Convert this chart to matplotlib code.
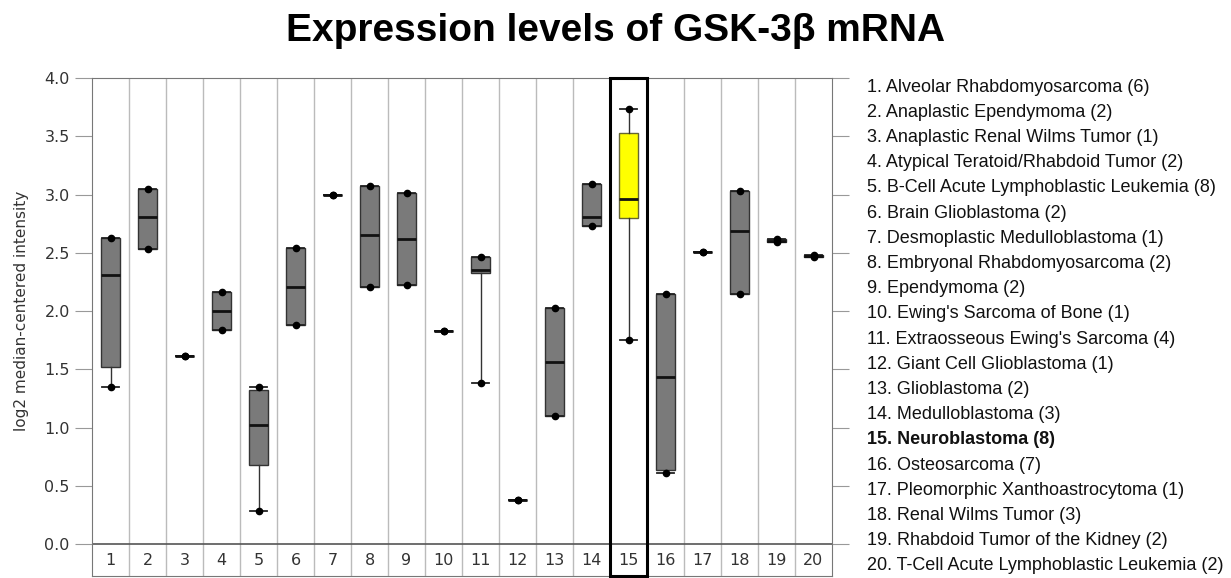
import matplotlib.pyplot as plt
from matplotlib.patches import Rectangle

# box statistics (log2 median-centered intensity)
tumors = ["Alveolar Rhabdomyosarcoma (6)", "Anaplastic Ependymoma (2)",
          "Anaplastic Renal Wilms Tumor (1)", "Atypical Teratoid/Rhabdoid Tumor (2)",
          "B-Cell Acute Lymphoblastic Leukemia (8)", "Brain Glioblastoma (2)",
          "Desmoplastic Medulloblastoma (1)", "Embryonal Rhabdomyosarcoma (2)",
          "Ependymoma (2)", "Ewing's Sarcoma of Bone (1)",
          "Extraosseous Ewing's Sarcoma (4)", "Giant Cell Glioblastoma (1)",
          "Glioblastoma (2)", "Medulloblastoma (3)", "Neuroblastoma (8)",
          "Osteosarcoma (7)", "Pleomorphic Xanthoastrocytoma (1)",
          "Renal Wilms Tumor (3)", "Rhabdoid Tumor of the Kidney (2)",
          "T-Cell Acute Lymphoblastic Leukemia (2)"]
lo  = [1.35, 2.53, 1.61, 1.84, 0.28, 1.88, 3.00, 2.21, 2.22, 1.83,
       1.38, 0.38, 1.10, 2.73, 1.75, 0.61, 2.51, 2.15, 2.59, 2.46]
q1  = [1.52, 2.53, 1.61, 1.84, 0.68, 1.88, 3.00, 2.21, 2.22, 1.83,
       2.33, 0.38, 1.10, 2.73, 2.80, 0.64, 2.51, 2.15, 2.59, 2.46]
med = [2.31, 2.81, 1.61, 2.00, 1.02, 2.21, 3.00, 2.65, 2.62, 1.83,
       2.35, 0.38, 1.56, 2.81, 2.96, 1.43, 2.51, 2.69, 2.60, 2.47]
q3  = [2.63, 3.05, 1.61, 2.16, 1.32, 2.54, 3.00, 3.07, 3.01, 1.83,
       2.46, 0.38, 2.03, 3.09, 3.53, 2.15, 2.51, 3.03, 2.62, 2.48]
hi  = [2.63, 3.05, 1.61, 2.16, 1.35, 2.54, 3.00, 3.07, 3.01, 1.83,
       2.46, 0.38, 2.03, 3.09, 3.73, 2.15, 2.51, 3.03, 2.62, 2.48]
highlight = 15

fig = plt.figure(figsize=(12.31, 5.78), dpi=100)
ax = fig.add_axes([92/1231, 2/578, 740/1231, 498/578])

n = len(tumors)
pos = list(range(1, n + 1))
stats = [dict(whislo=lo[i], q1=q1[i], med=med[i], q3=q3[i], whishi=hi[i])
         for i in range(n)]
bp = ax.bxp(stats, positions=pos, widths=0.52, showfliers=False, patch_artist=True,
            capwidths=0.45,
            boxprops=dict(facecolor="#7a7a7a", edgecolor="#333333", linewidth=1),
            medianprops=dict(color="#111111", linewidth=2),
            whiskerprops=dict(color="#333333", linewidth=1),
            capprops=dict(color="#222222", linewidth=1.3))
bp["boxes"][highlight - 1].set_facecolor("#ffff00")
bp["boxes"][highlight - 1].set_edgecolor("#666633")

# min / max dots
ax.plot(pos, lo, "o", color="black", markersize=4.5, zorder=4)
ax.plot(pos, hi, "o", color="black", markersize=4.5, zorder=4)

ybot = -0.274
ax.set_xlim(0.5, n + 0.5)
ax.set_ylim(ybot, 4.0)

# column separators, baseline and labels row
for x in range(1, n):
    ax.axvline(x + 0.5, color="#bbbbbb", linewidth=1, zorder=0)
ax.axhline(0, color="#555555", linewidth=1.2)
for x in pos:
    ax.text(x, ybot / 2, str(x), ha="center", va="center", fontsize=11.5, color="#333333")

ax.add_patch(Rectangle((highlight - 0.5, ybot), 1, 4.0 - ybot, fill=False,
                       edgecolor="black", linewidth=2.2, zorder=5, clip_on=False))

ax.set_xticks([])
ax.set_yticks([0, 0.5, 1.0, 1.5, 2.0, 2.5, 3.0, 3.5, 4.0])
ax.set_yticklabels([f"{v:.1f}" for v in ax.get_yticks()])
ax.tick_params(axis="y", which="both", direction="out", length=12, color="#999999",
               labelsize=11.5, labelcolor="#333333", right=True, pad=4)
for side in ax.spines.values():
    side.set_color("#777777")
ax.set_ylabel("log2 median-centered intensity", fontsize=11, color="#333333")
ax.yaxis.set_label_coords(-0.085, (0 - ybot + 2.0) / (4.0 - ybot))

fig.text(0.5, 1 - 31/578, "Expression levels of GSK-3β mRNA", ha="center", va="center",
         fontsize=28, fontweight="bold", family="Liberation Sans")

for i, name in enumerate(tumors):
    y = 1 - (87 + i * 25.2) / 578
    bold = (i + 1) == highlight
    fig.text(867/1231, y, f"{i + 1}. {name}", ha="left", va="center",
             fontsize=13,
             fontweight="bold" if bold else "normal",
             family="Liberation Sans", color="#111111")

fig.savefig("out.png", dpi=100)
